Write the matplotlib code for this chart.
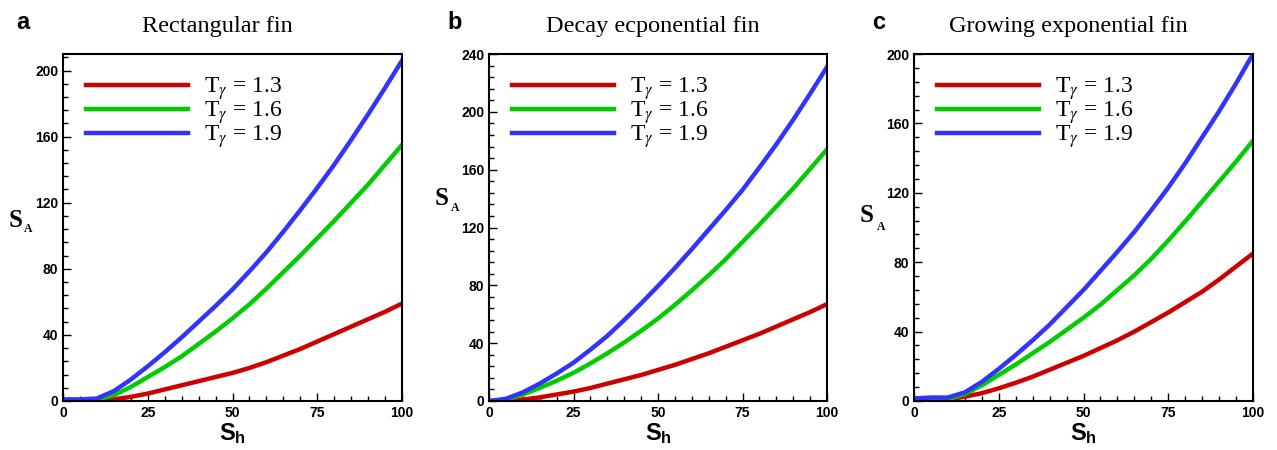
import matplotlib
matplotlib.use('Agg')
import matplotlib.pyplot as plt
from matplotlib.ticker import MultipleLocator
from matplotlib.font_manager import FontProperties

plt.rcParams['font.family'] = 'Liberation Sans'
plt.rcParams['mathtext.fontset'] = 'custom'
plt.rcParams['mathtext.bf'] = 'Liberation Sans:bold'
plt.rcParams['mathtext.rm'] = 'Liberation Sans'
plt.rcParams['mathtext.it'] = 'Liberation Sans:italic'

# --- data ---
sh = [0, 5, 10, 15, 20, 25, 30, 35, 40, 45, 50, 55, 60, 65, 70, 75, 80, 85, 90, 95, 100]

rect_13 = [0.5, 0.5, 0.5, 1, 2.5, 4.5, 7, 9.5, 12, 14.5, 17, 20, 23.5, 27.5, 31.5, 36, 40.5, 45, 49.5, 54, 59]
rect_16 = [0.5, 0.5, 0.8, 3.5, 8.5, 14.5, 20.5, 27, 34.5, 42, 50, 58.5, 68, 78, 88, 98.5, 109, 120, 131, 143, 155]
rect_19 = [1, 1, 1.5, 6, 13, 21, 29.5, 38.5, 48, 57.5, 67.5, 78.5, 90, 102.5, 115.5, 129, 143, 158, 173.5, 189.5, 206]

decay_13 = [0, 0.3, 1, 2.5, 4.5, 6.5, 9, 12, 15, 18, 21.5, 25, 29, 33, 37.5, 42, 46.5, 51.5, 56.5, 61.5, 67]
decay_16 = [0, 1, 4.5, 9, 14, 19.5, 26, 33, 40.5, 48.5, 57, 66.5, 76.5, 87, 98, 110, 122, 134.5, 147, 160.5, 174]
decay_19 = [0, 1.5, 6, 12, 19, 26.5, 35.5, 45, 56, 67.5, 79.5, 92, 105, 118.5, 132, 146, 161.5, 177.5, 194.5, 212.5, 231]

grow_13 = [0.3, 0.3, 0.8, 2.5, 4.5, 7.3, 10.5, 14, 18, 22, 26, 30.5, 35, 40, 45.5, 51, 57, 63, 70, 77.5, 85]
grow_16 = [0.5, 0.5, 1, 4, 9, 15, 21, 27.5, 34, 41, 48, 55.5, 64, 72.5, 82, 92.5, 103.5, 115, 126.5, 138, 150]
grow_19 = [1.5, 2, 2, 5, 11, 18.5, 26.5, 35, 44, 54, 64, 75, 86, 97.5, 110, 123, 137, 152, 167, 183, 200]

labels = [r'T$_\gamma$ = 1.3', r'T$_\gamma$ = 1.6', r'T$_\gamma$ = 1.9']
colors = ['#cc0000', '#00cc00', '#3333ff']

titles = ['Rectangular fin', 'Decay ecponential fin', 'Growing exponential fin']
letters = ['a', 'b', 'c']
series = [[rect_13, rect_16, rect_19], [decay_13, decay_16, decay_19], [grow_13, grow_16, grow_19]]
ytops = [210, 240, 200]

# layout (pixels)
lefts = [63, 489, 914]
widths = [339, 338, 339]
title_x = [0.454, 0.484, 0.456]
letter_x = [16, 447, 872]
sa_pos = [(9, 226.7, 24, 231.7), (435, 205, 451, 211), (860, 221.7, 877, 230)]

W, H = 1277, 450
fig = plt.figure(figsize=(12.77, 4.5), dpi=100)

leg_prop = FontProperties(family='Liberation Serif', size=17, math_fontfamily='stix')

for i in range(3):
    ax = fig.add_axes([lefts[i] / W, 49 / H, widths[i] / W, 347 / H])
    for vals, c, lab in zip(series[i], colors, labels):
        ax.plot(sh, vals, color=c, lw=3.2, label=lab)
    ax.set_xlim(0, 100)
    ax.set_ylim(0, ytops[i])
    ax.xaxis.set_major_locator(MultipleLocator(25))
    ax.xaxis.set_minor_locator(MultipleLocator(5))
    ax.yaxis.set_major_locator(MultipleLocator(40))
    ax.yaxis.set_minor_locator(MultipleLocator(8))
    ax.tick_params(which='both', direction='in', top=False, right=False,
                   labelsize=10, pad=3.5, width=1)
    ax.tick_params(which='major', length=6)
    ax.tick_params(which='minor', length=3.5)
    for lbl in ax.get_xticklabels() + ax.get_yticklabels():
        lbl.set_fontweight('bold')
    for sp in ax.spines.values():
        sp.set_linewidth(1.5)

    ax.set_xlabel(r'$\mathbf{S_h}$', fontsize=17, labelpad=1)
    ax.set_title(titles[i], fontfamily='Liberation Serif', fontsize=17.5,
                 x=title_x[i], pad=16)
    ax.legend(loc='upper left', bbox_to_anchor=(0.068, 0.938), frameon=False,
              prop=leg_prop, handlelength=4.3, handletextpad=0.7,
              labelspacing=-0.12, borderaxespad=0, borderpad=0)

    fig.text(letter_x[i] / W, 1 - 29 / H, letters[i], fontsize=17,
             fontweight='bold', va='baseline')
    sx, sy, ax_, ay = sa_pos[i]
    fig.text(sx / W, 1 - sy / H, 'S', family='Liberation Serif', weight='bold',
             fontsize=18, va='baseline')
    fig.text(ax_ / W, 1 - ay / H, 'A', family='Liberation Serif', weight='bold',
             fontsize=8.5, va='baseline')

fig.savefig('out.png', dpi=100)
